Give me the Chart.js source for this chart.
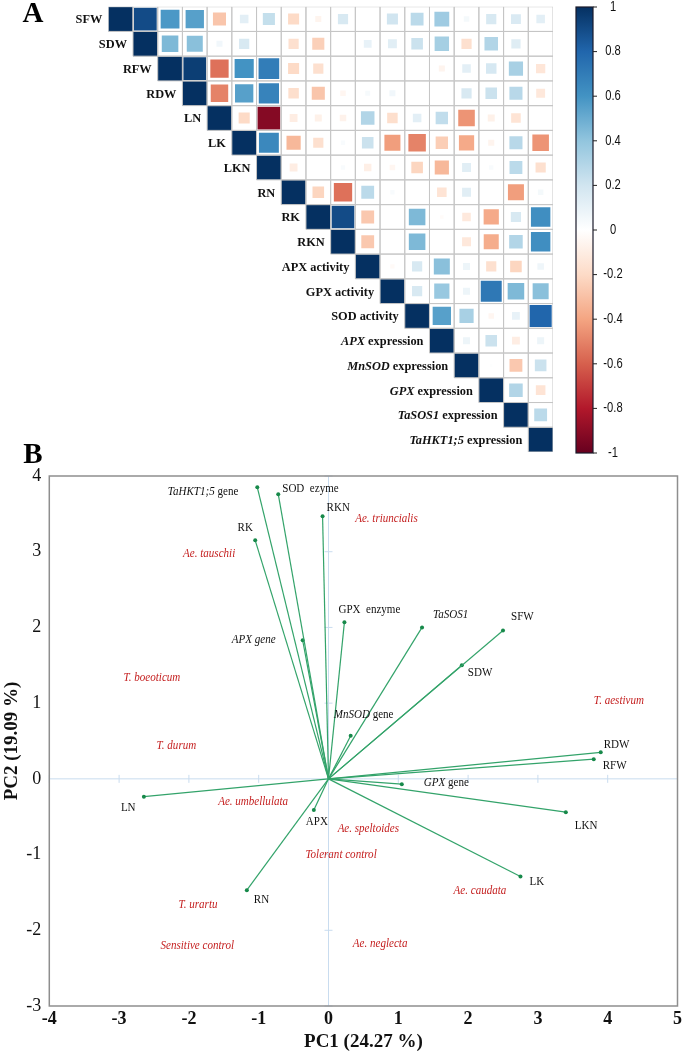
<!DOCTYPE html>
<html><head><meta charset="utf-8">
<script src="https://cdn.jsdelivr.net/npm/chart.js@4.4.1/dist/chart.umd.min.js"></script>
<style>
html,body{margin:0;padding:0;background:#fff;}
#wrap{position:relative;width:685px;height:1051px;overflow:hidden;background:#fff;}
#cA{position:absolute;left:0;top:0;}
#cB{position:absolute;left:0;top:440px;}
</style></head><body>
<div id="wrap">
<canvas id="cA" width="685" height="462"></canvas>
<canvas id="cB" width="685" height="611"></canvas>
</div>
<script>
// ---------- Panel A data ----------
const corrVars = ['SFW','SDW','RFW','RDW','LN','LK','LKN','RN','RK','RKN',
  'APX activity','GPX activity','SOD activity','*APX* expression','*MnSOD* expression',
  '*GPX* expression','*TaSOS1* expression','*TaHKT1;5* expression'];
// upper triangle, row i holds r(i, j) for j = i+1 .. 17
const corrRows = [
  [0.9, 0.58, 0.55, -0.28, 0.12, 0.24, -0.2, -0.06, 0.17, 0, 0.2, 0.27, 0.36, 0.05, 0.17, 0.16, 0.12],
  [0.45, 0.42, 0.06, 0.17, 0, -0.17, -0.24, 0, 0.1, 0.13, 0.22, 0.34, -0.17, 0.3, 0.14, 0],
  [0.95, -0.55, 0.6, 0.7, -0.2, -0.17, 0, 0, 0, 0, -0.06, 0.12, 0.18, 0.33, -0.14],
  [-0.5, 0.55, 0.67, -0.18, -0.28, -0.05, 0.04, 0.06, 0, 0, 0.17, 0.22, 0.28, -0.13],
  [-0.2, -0.92, -0.1, -0.08, -0.07, 0.3, -0.18, 0.12, 0.25, -0.45, -0.08, -0.15, 0],
  [0.65, -0.33, -0.17, 0.03, 0.22, -0.42, -0.5, -0.25, -0.38, -0.06, 0.28, -0.45],
  [-0.1, 0, 0.03, -0.09, -0.05, -0.22, -0.33, 0.13, 0.03, 0.27, -0.17],
  [-0.22, -0.55, 0.27, 0.03, 0, -0.15, 0.13, 0, -0.42, 0.05],
  [0.9, -0.27, 0, 0.45, -0.02, -0.12, -0.38, 0.17, 0.62],
  [-0.27, 0, 0.45, 0, -0.13, -0.37, 0.3, 0.62],
  [-0.03, 0.17, 0.42, 0.08, -0.17, -0.22, 0.07],
  [0.17, 0.38, 0.08, 0.72, 0.45, 0.42],
  [0.55, 0.33, -0.05, 0.1, 0.8],
  [0.08, 0.22, -0.1, 0.08],
  [0.01, -0.27, 0.22],
  [0.3, -0.15],
  [0.27]
];
const colorbarTicks = [1, 0.8, 0.6, 0.4, 0.2, 0, -0.2, -0.4, -0.6, -0.8, -1];
const palette = ['#67001F','#B2182B','#D6604D','#F4A582','#FDDBC7','#FFFFFF','#D1E5F0','#92C5DE','#4393C3','#2166AC','#053061'];

// ---------- Panel B data ----------
const pcaVars = ['SFW','SDW','RFW','RDW','LN','LK','LKN','RN','RK','RKN','APX',
  'GPX  enzyme','SOD  ezyme','*APX gene*','*MnSOD* gene','*GPX* gene','*TaSOS1*','*TaHKT1;5* gene'];
const pc1 = [2.50, 1.91, 3.80, 3.90, -2.645, 2.75, 3.40, -1.17, -1.05, -0.085, -0.21, 0.228, -0.72, -0.37, 0.318, 1.05, 1.34, -1.02];
const pc2 = [1.96, 1.50, 0.26, 0.35, -0.235, -1.29, -0.44, -1.47, 3.15, 3.47, -0.41, 2.07, 3.76, 1.83, 0.57, -0.07, 2.0, 3.85];
const genotypes = ['Ae. triuncialis','Ae. tauschii','T. boeoticum','T. durum','Ae. umbellulata','Ae. speltoides',
  'Tolerant control','T. urartu','Sensitive control','Ae. caudata','Ae. neglecta','T. aestivum'];
const gPC1 = [0.83, -1.71, -2.53, -2.18, -1.08, 0.57, 0.18, -1.87, -1.88, 2.17, 0.74, 4.16];
const gPC2 = [3.43, 2.97, 1.33, 0.43, -0.31, -0.66, -1.01, -1.66, -2.2, -1.48, -2.18, 1.03];
const xTicks = [-4, -3, -2, -1, 0, 1, 2, 3, 4, 5];
const yTicks = [-3, -2, -1, 0, 1, 2, 3, 4];

// label placement (layout only): [align, dx px, dy px] relative to arrow tip
const varLabelLayout = {
  'SFW':['left',8,-14], 'SDW':['left',6,8], 'RFW':['left',9,7], 'RDW':['left',3,-8],
  'LN':['left',-23,11], 'LK':['left',9,5], 'LKN':['left',9,14], 'RN':['left',7,10],
  'RK':['center',-10,-13], 'RKN':['left',4,-8], 'APX':['left',-8,12],
  'GPX  enzyme':['left',-6,-12], 'SOD  ezyme':['left',4,-5], '*APX gene*':['right',-27,0],
  '*MnSOD* gene':['left',-17,-21], '*GPX* gene':['left',22,-1], '*TaSOS1*':['left',11,-13],
  '*TaHKT1;5* gene':['right',-19,4]
};

const SERIF = '"Liberation Serif","Times New Roman",serif';
const SANS = '"Liberation Sans",Arial,sans-serif';

function hexToRgb(h){return [parseInt(h.substr(1,2),16),parseInt(h.substr(3,2),16),parseInt(h.substr(5,2),16)];}
function colorFor(v){
  const n = palette.length - 1;
  const t = (v + 1) / 2 * n;
  const i = Math.max(0, Math.min(Math.floor(t), n - 1));
  const f = t - i;
  const a = hexToRgb(palette[i]), b = hexToRgb(palette[i+1]);
  const c = a.map((x,k)=>Math.round(x + (b[k]-x)*f));
  return `rgb(${c[0]},${c[1]},${c[2]})`;
}

// rich text: *...* segments italic
function richParts(s){ return s.split('*').map((t,i)=>({t, it: i%2===1})).filter(p=>p.t.length); }
function drawRich(ctx, s, x, y, align, size, weight, color, sx){
  sx = sx || 1;
  const parts = richParts(s);
  ctx.save();
  ctx.fillStyle = color; ctx.textBaseline = 'middle'; ctx.textAlign = 'left';
  let total = 0;
  parts.forEach(p=>{ ctx.font = `${p.it?'italic ':''}${weight} ${size}px ${SERIF}`; p.w = ctx.measureText(p.t).width; total += p.w; });
  total *= sx;
  let cx = align==='right' ? x - total : align==='center' ? x - total/2 : x;
  parts.forEach(p=>{
    ctx.font = `${p.it?'italic ':''}${weight} ${size}px ${SERIF}`;
    ctx.save(); ctx.translate(cx, y); ctx.scale(sx,1); ctx.fillText(p.t, 0, 0); ctx.restore();
    cx += p.w * sx;
  });
  ctx.restore();
}

// ---------- Panel A chart ----------
const cellPts = [], gridPts = [];
for (let i = 0; i < corrVars.length; i++) {
  for (let j = i; j < corrVars.length; j++) {
    const v = i === j ? 1 : corrRows[i][j - i - 1];
    cellPts.push({x: j, y: i, v: v});
    gridPts.push({x: j, y: i});
  }
}
function cellSize(chart){ const s = chart.scales.x; return Math.abs(s.getPixelForValue(1) - s.getPixelForValue(0)); }

const panelAPlugin = {
  id: 'panelA',
  afterDraw(chart){
    const ctx = chart.ctx, xs = chart.scales.x, ys = chart.scales.y;
    const c = cellSize(chart);
    corrVars.forEach((name, i)=>{
      drawRich(ctx, name, xs.getPixelForValue(i) - c/2 - 6, ys.getPixelForValue(i) + 1, 'right', 13, 'bold', '#111', 0.95);
    });
    // panel letter
    ctx.save(); ctx.font = `bold 29px ${SERIF}`; ctx.fillStyle = '#000'; ctx.textAlign='center'; ctx.textBaseline='alphabetic';
    ctx.fillText('A', 33, 22); ctx.restore();
    // colour bar
    const x0 = 576, x1 = 593, y0 = 7, y1 = 453;
    const g = ctx.createLinearGradient(0, y0, 0, y1);
    palette.slice().reverse().forEach((col, k)=> g.addColorStop(k/(palette.length-1), col));
    ctx.save();
    ctx.fillStyle = g; ctx.fillRect(x0, y0, x1-x0, y1-y0);
    ctx.strokeStyle = '#1a1a2a'; ctx.lineWidth = 1.2; ctx.strokeRect(x0, y0, x1-x0, y1-y0);
    ctx.fillStyle = '#111'; ctx.font = `14px ${SANS}`; ctx.textAlign='center'; ctx.textBaseline='middle';
    colorbarTicks.forEach(t=>{
      const y = y1 - (t + 1)/2 * (y1 - y0);
      ctx.beginPath(); ctx.moveTo(x1, y); ctx.lineTo(x1+4, y); ctx.strokeStyle='#222'; ctx.lineWidth=1; ctx.stroke();
      ctx.save(); ctx.translate(613, y); ctx.scale(0.8,1); ctx.fillText(String(t), 0, 0); ctx.restore();
    });
    ctx.restore();
  }
};

new Chart(document.getElementById('cA'), {
  type: 'scatter',
  data: { datasets: [
    { data: gridPts, pointStyle: 'rect', backgroundColor: 'rgba(0,0,0,0)', borderColor: '#c6c6c6', borderWidth: 1,
      radius: ctx => cellSize(ctx.chart) / Math.SQRT2, order: 0 },
    { data: cellPts, pointStyle: 'rect', backgroundColor: ctx => colorFor(ctx.raw.v), borderWidth: 0,
      radius: ctx => { const c = cellSize(ctx.chart); const a = Math.abs(ctx.raw.v);
        const s = a >= 0.999 ? c : Math.min(Math.sqrt(a) * c, c - 2); return s / Math.SQRT2; }, order: 1 }
  ]},
  options: {
    responsive: false, animation: false, events: [],
    layout: { padding: { left: 108.3, right: 132, top: 6.7, bottom: 10 } },
    scales: {
      x: { display: false, min: -0.5, max: 17.5 },
      y: { display: false, min: -0.5, max: 17.5, reverse: true }
    },
    plugins: { legend: { display: false }, tooltip: { enabled: false } }
  },
  plugins: [panelAPlugin]
});

// ---------- Panel B chart ----------
const vecDatasets = pcaVars.map((name, i)=>({
  label: name,
  data: [{x: 0, y: 0}, {x: pc1[i], y: pc2[i]}],
  showLine: true, borderColor: '#33a36a', borderWidth: 1.2,
  pointRadius: [0, 2], pointBackgroundColor: '#17894a', pointBorderWidth: 0
}));

const panelBPlugin = {
  id: 'panelB',
  beforeDatasetsDraw(chart){
    const ctx = chart.ctx, xs = chart.scales.x, ys = chart.scales.y, a = chart.chartArea;
    const x0 = xs.getPixelForValue(0), y0 = ys.getPixelForValue(0);
    ctx.save();
    ctx.strokeStyle = '#c9dcef'; ctx.lineWidth = 1;
    ctx.beginPath(); ctx.moveTo(a.left, y0); ctx.lineTo(a.right, y0); ctx.moveTo(x0, a.top); ctx.lineTo(x0, a.bottom); ctx.stroke();
    ctx.beginPath();
    xTicks.forEach(t=>{ if (t===0) return; const x = xs.getPixelForValue(t); ctx.moveTo(x, y0-4); ctx.lineTo(x, y0+4); });
    yTicks.forEach(t=>{ if (t===0) return; const y = ys.getPixelForValue(t); ctx.moveTo(x0-4, y); ctx.lineTo(x0+4, y); });
    ctx.stroke();
    ctx.restore();
  },
  afterDraw(chart){
    const ctx = chart.ctx, xs = chart.scales.x, ys = chart.scales.y, a = chart.chartArea;
    ctx.save();
    ctx.strokeStyle = '#8e8e8e'; ctx.lineWidth = 1.5;
    ctx.strokeRect(a.left, a.top, a.right - a.left, a.bottom - a.top);
    ctx.restore();
    // variable labels
    pcaVars.forEach((name, i)=>{
      const L = varLabelLayout[name];
      drawRich(ctx, name, xs.getPixelForValue(pc1[i]) + L[1], ys.getPixelForValue(pc2[i]) + L[2], L[0], 12, 'normal', '#111', 0.92);
    });
    // genotype labels
    genotypes.forEach((name, i)=>{
      drawRich(ctx, '*' + name + '*', xs.getPixelForValue(gPC1[i]), ys.getPixelForValue(gPC2[i]), 'center', 12, 'normal', '#c41e1e', 0.92);
    });
    // axis titles
    ctx.save();
    ctx.fillStyle = '#111'; ctx.font = `bold 19px ${SERIF}`; ctx.textAlign = 'center'; ctx.textBaseline = 'middle';
    ctx.fillText('PC1 (24.27 %)', (a.left + a.right)/2, 602);
    ctx.translate(12, (a.top + a.bottom)/2); ctx.rotate(-Math.PI/2);
    ctx.fillText('PC2 (19.09 %)', 0, 0);
    ctx.restore();
    ctx.save(); ctx.font = `bold 29px ${SERIF}`; ctx.fillStyle = '#000'; ctx.textAlign='center'; ctx.textBaseline='alphabetic';
    ctx.fillText('B', 33, 23); ctx.restore();
  }
};

new Chart(document.getElementById('cB'), {
  type: 'scatter',
  data: { datasets: vecDatasets },
  options: {
    responsive: false, animation: false, events: [],
    layout: { padding: { left: 0, right: 4.3, top: 36, bottom: 0 } },
    scales: {
      x: { type: 'linear', min: -4, max: 5,
        afterBuildTicks: s => { s.ticks = xTicks.map(v => ({value: v})); },
        afterFit: s => { s.height = 45; },
        grid: { display: false, drawTicks: false }, border: { display: false },
        ticks: { font: { family: SERIF, size: 18, weight: 'bold' }, color: '#111', padding: 3, maxRotation: 0, autoSkip: false } },
      y: { type: 'linear', min: -3, max: 4,
        afterBuildTicks: s => { s.ticks = yTicks.map(v => ({value: v})); },
        afterFit: s => { s.width = 49.3; },
        grid: { display: false, drawTicks: false }, border: { display: false },
        ticks: { font: { family: SERIF, size: 18 }, color: '#111', padding: 8, autoSkip: false } }
    },
    plugins: { legend: { display: false }, tooltip: { enabled: false } }
  },
  plugins: [panelBPlugin]
});
</script>
</body></html>
